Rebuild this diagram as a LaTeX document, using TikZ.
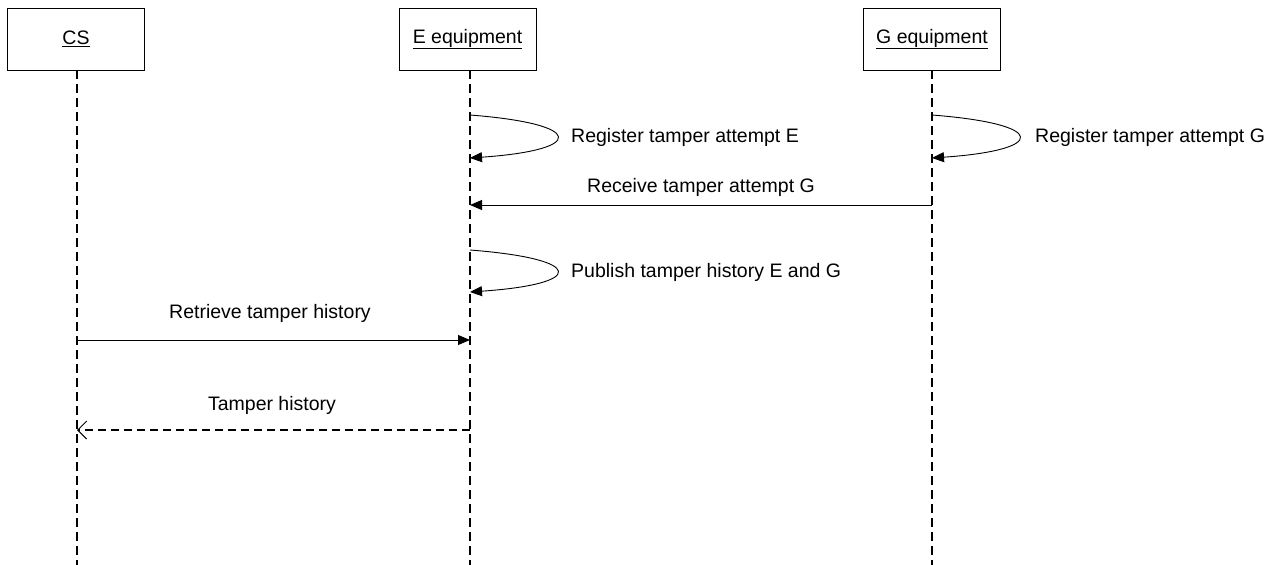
\documentclass[tikz,border=0pt]{standalone}
\usepackage{fontspec}
\setmainfont{Liberation Sans}
\usetikzlibrary{arrows.meta}
\begin{document}
\begin{tikzpicture}[x=1pt,y=-1pt,
  every node/.style={font=\fontsize{19.5}{23}\selectfont},
  actor/.style={draw, line width=1pt, minimum width=137pt, minimum height=62pt, inner sep=0pt},
  lifeline/.style={line width=1.6pt, dash pattern=on 9pt off 5pt},
  msg/.style={line width=0.9pt, -{Triangle[length=12pt,width=10pt]}},
  reply/.style={line width=1.2pt, dash pattern=on 8pt off 5pt, -{Straight Barb[length=9pt,width=18pt,line width=0.9pt]}},
  selfmsg/.style={line width=0.9pt, -{Triangle[length=12pt,width=10pt]}},
  lbl/.style={inner sep=0pt, anchor=west}]
\useasboundingbox (0,0) rectangle (1283,565);

% actors
\node[actor] (cs) at (76,39) {\underline{CS}};
\node[actor] (e) at (467.5,39) {\underline{E equipment}};
\node[actor] (g) at (932,39) {\underline{G equipment}};

% lifelines
\coordinate (csTop) at (77,70);  \coordinate (csEnd) at (77,565);
\coordinate (eTop) at (470,70);  \coordinate (eEnd) at (470,565);
\coordinate (gTop) at (932,70);  \coordinate (gEnd) at (932,565);
\draw[lifeline] (csTop) -- (csEnd);
\draw[lifeline] (eTop) -- (eEnd);
\draw[lifeline] (gTop) -- (gEnd);

% self messages
\coordinate (e1a) at (470,115); \coordinate (e1b) at (470,158);
\draw[selfmsg] (e1a) .. controls (586,124) and (586,150) .. (e1b);
\node[lbl] (t1) at (571,137) {Register tamper attempt E};

\coordinate (g1a) at (932,115); \coordinate (g1b) at (932,158);
\draw[selfmsg] (g1a) .. controls (1048,124) and (1048,150) .. (g1b);
\node[lbl] (t2) at (1035,137) {Register tamper attempt G};

% G -> E
\coordinate (g2) at (932,205); \coordinate (e2) at (470,205);
\draw[msg] (g2) -- (e2);
\node (t3) at (701,187) {Receive tamper attempt G};

\coordinate (e3a) at (470,250); \coordinate (e3b) at (470,292);
\draw[selfmsg] (e3a) .. controls (586,259) and (586,284) .. (e3b);
\node[lbl] (t4) at (571,272) {Publish tamper history E and G};

% CS <-> E
\coordinate (cs4) at (77,340); \coordinate (e4) at (470,340);
\draw[msg] (cs4) -- (e4);
\node (t5) at (270,313) {Retrieve tamper history};

\coordinate (e5) at (470,430); \coordinate (cs5) at (77,430);
\draw[reply] (e5) -- (cs5);
\node (t6) at (272,405) {Tamper history};
\end{tikzpicture}
\end{document}
